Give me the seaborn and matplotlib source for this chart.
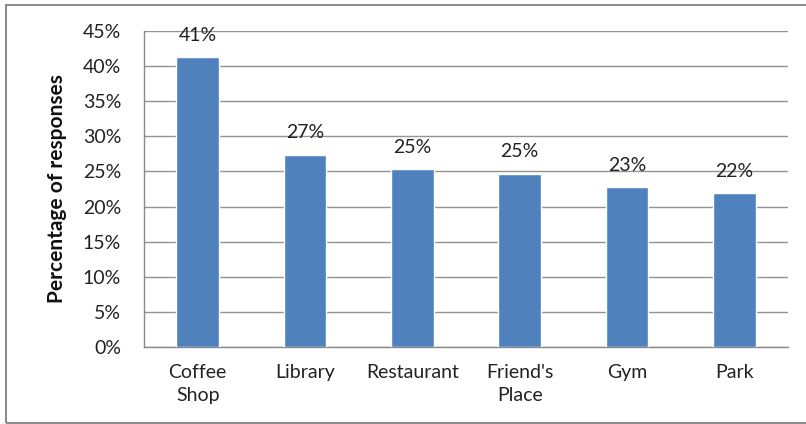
import matplotlib
matplotlib.use("Agg")
import matplotlib.pyplot as plt
import seaborn as sns
import pandas as pd
from matplotlib.patches import Rectangle
from matplotlib.ticker import FuncFormatter

# Where respondents prefer to meet (share of responses, %)
places = ["Coffee\nShop", "Library", "Restaurant", "Friend's\nPlace", "Gym", "Park"]
shares = [41.3, 27.4, 25.3, 24.7, 22.8, 21.9]
y_ticks = [0, 5, 10, 15, 20, 25, 30, 35, 40, 45]

df = pd.DataFrame({"place": places, "share": shares})

sns.set_theme(style="white")
plt.rcParams["font.family"] = ["Lato", "DejaVu Sans"]

fig = plt.figure(figsize=(8.06, 4.24), dpi=100)
ax = fig.add_axes([144 / 806, 1 - 347 / 424, (788 - 144) / 806, (347 - 31) / 424])

sns.barplot(data=df, x="place", y="share", color="#4F81BD", saturation=1,
            width=0.40, ax=ax, zorder=3)

ax.set_ylim(0, 45)
ax.set_yticks(y_ticks)
ax.yaxis.set_major_formatter(FuncFormatter(lambda v, _: f"{v:.0f}%"))
ax.set_xlim(-0.5, len(places) - 0.5)
ax.grid(axis="y", color="#939393", linewidth=1.0, zorder=0)
ax.set_axisbelow(True)

for side in ("top", "right"):
    ax.spines[side].set_visible(False)
for side in ("left", "bottom"):
    ax.spines[side].set_color("#8a8a8a")
    ax.spines[side].set_linewidth(1.0)

ax.tick_params(axis="both", length=0, labelsize=14, colors="#222222")
ax.tick_params(axis="y", pad=16.5)
ax.tick_params(axis="x", pad=12)
for lbl in ax.get_xticklabels():
    lbl.set_linespacing(1.45)
ax.set_xlabel("")
ax.set_ylabel("Percentage of responses", fontsize=15, fontweight="bold",
              color="#111111", labelpad=11)

for i, v in enumerate(shares):
    ax.text(i, v + 1.9, f"{v:.0f}%", ha="center", va="bottom",
            fontsize=14, color="#222222")

# Chart frame around the plotting area
fig.patches.append(Rectangle((6 / 806, 1 / 424), 1.0, 1 - 6 / 424,
                             transform=fig.transFigure, fill=False,
                             edgecolor="#8c8c8c", linewidth=1.5))

fig.savefig("out.png", dpi=100)
